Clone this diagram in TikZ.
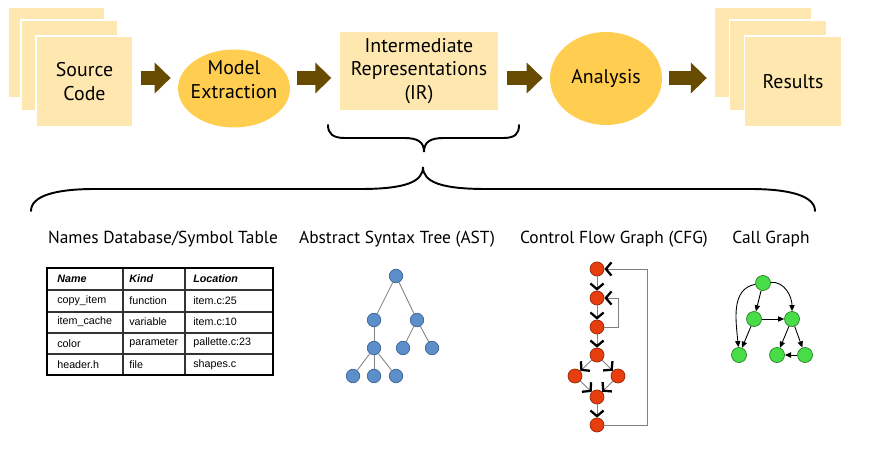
\documentclass[tikz,border=0pt]{standalone}
\usepackage{fontspec}
\setmainfont{PT Sans}
\newfontfamily\tablefont{Liberation Sans}
\usetikzlibrary{arrows.meta,shapes.geometric}
\definecolor{pagefill}{RGB}{255,232,176}
\definecolor{procfill}{RGB}{255,206,80}
\definecolor{arrowbrown}{RGB}{102,75,0}
\definecolor{astblue}{RGB}{92,142,202}
\definecolor{astline}{RGB}{60,100,150}
\definecolor{cfgred}{RGB}{232,62,14}
\definecolor{cfgline}{RGB}{150,40,10}
\definecolor{cggreen}{RGB}{72,220,72}
\definecolor{cgline}{RGB}{40,130,40}
\tikzset{
  pagebox/.style={fill=pagefill,draw=white,line width=0.8pt,minimum width=1.94cm,
    minimum height=1.82cm,inner sep=0pt,align=center,font=\fontsize{11.3}{13.5}\selectfont},
  procellipse/.style={ellipse,fill=procfill,minimum width=2.24cm,inner sep=0pt,
    align=center,font=\fontsize{11.3}{13.5}\selectfont},
  flowarrow/.style={arrowbrown,line width=0.28cm,-{Triangle[length=0.32cm,width=0.6cm]},
    shorten <=0.14cm,shorten >=0.14cm},
  brace/.style={line width=1.1pt,line cap=round},
  partlabel/.style={font=\fontsize{9.9}{12}\selectfont},
  cell/.style={anchor=west,inner sep=0pt,font=\tablefont\fontsize{6.1}{7}\selectfont},
  tabrule/.style={line width=1.2pt},
  tabline/.style={line width=0.6pt,black!80},
  astnode/.style={circle,fill=astblue,draw=astline,line width=0.4pt,minimum size=0.27cm,inner sep=0pt},
  astedge/.style={gray,line width=0.5pt},
  cfgnode/.style={circle,fill=cfgred,draw=cfgline,line width=0.4pt,minimum size=0.28cm,inner sep=0pt},
  cfgedge/.style={gray,line width=0.5pt,
    -{Straight Barb[color=black,length=3.2pt,width=7.5pt,line width=1.3pt]}},
  cgnode/.style={circle,fill=cggreen,draw=cgline,line width=0.4pt,minimum size=0.3cm,inner sep=0pt},
  cgedge/.style={black,line width=0.5pt,-{Triangle[length=3.5pt,width=3pt]}},
}

\begin{document}
\begin{tikzpicture}[x=0.02cm,y=-0.02cm]
  \useasboundingbox (0,0) rectangle (871,452);
  \coordinate (row) at (0,78);

  % pipeline
  \node[pagebox] (src2) at (56.5,52.5) {};
  \node[pagebox] (src1) at (69.5,65.5) {};
  \node[pagebox] (src)  at (84.5,81.5) {Source\\Code};
  \node[procellipse,minimum height=1.56cm,
    label={[align=center,font=\fontsize{11.3}{13.5}\selectfont,yshift=0.18cm]center:Model\\Extraction}]
    (model) at (234,88.5) {};
  \node[pagebox,minimum width=3.2cm,minimum height=1.6cm] (ir) at (419,71) {Intermediate\\Representations\\(IR)};
  \node[procellipse,minimum height=1.86cm] (analysis) at (606,78.5) {Analysis};
  \node[pagebox] (res2) at (763,52.5) {};
  \node[pagebox] (res1) at (778,65.5) {};
  \node[pagebox] (res)  at (793,81.5) {Results};

  \draw[flowarrow] (src.east |- row) -- (model.west |- row);
  \draw[flowarrow] (model.east |- row) -- (ir.west |- row);
  \draw[flowarrow] (ir.east |- row) -- (analysis.west |- row);
  \draw[flowarrow] (analysis.east |- row) -- (res2.west |- row);

  % braces
  \draw[brace] (328,125) .. controls (328,134) and (333,138) .. (345,138) -- (404,138)
    .. controls (418,138) and (424,142) .. (424,152)
    .. controls (424,142) and (430,138) .. (444,138) -- (503,138)
    .. controls (515,138) and (519,134) .. (519,125);
  \draw[brace] (31,211) .. controls (31,196) and (55,189) .. (95,189) -- (360,189)
    .. controls (405,189) and (423,182) .. (423,167)
    .. controls (423,182) and (441,189) .. (486,189) -- (750,189)
    .. controls (790,189) and (815,196) .. (815,211);

  % part labels
  \node[partlabel] (namesdb) at (163,239) {Names Database/Symbol Table};
  \node[partlabel] (asttitle) at (397,239) {Abstract Syntax Tree (AST)};
  \node[partlabel] (cfgtitle) at (614,239) {Control Flow Graph (CFG)};
  \node[partlabel] (cgtitle) at (771,239) {Call Graph};

  % symbol table
  \foreach \yy in {290,312,333,354} \draw[tabline] (47,\yy) -- (273,\yy);
  \foreach \xx in {123,185} \draw[tabline] (\xx,268) -- (\xx,375);
  \draw[tabrule] (47,268) rectangle (273,375);
  \node[cell] (head1) at (57,279) {\textbf{\textit{Name}}};
  \node[cell] (head2) at (129,279) {\textbf{\textit{Kind}}};
  \node[cell] (head3) at (193,279) {\textbf{\textit{Location}}};
  \foreach \nm/\kd/\loc [count=\r] in {copy\_item/function/item.c:25,
      item\_cache/variable/item.c:10, color/parameter/pallette.c:23, header.h/file/shapes.c}
    \path (57,{279+21.4*\r}) node[cell] (name\r) {\nm}
          (129,{279+21.4*\r}) node[cell] (kind\r) {\kd}
          (193,{279+21.4*\r}) node[cell] (loc\r) {\loc};

  % abstract syntax tree
  \node[astnode] (a0) at (396,276) {};
  \node[astnode] (a1) at (374,320) {};
  \node[astnode] (a2) at (417,320) {};
  \node[astnode] (a3) at (374,348) {};
  \node[astnode] (a4) at (403,348) {};
  \node[astnode] (a5) at (432,348) {};
  \node[astnode] (a6) at (353,376) {};
  \node[astnode] (a7) at (374,376) {};
  \node[astnode] (a8) at (396,376) {};
  \foreach \p/\c in {a0/a1,a0/a2,a1/a3,a2/a4,a2/a5,a3/a6,a3/a7,a3/a8}
    \draw[astedge] (\p) -- (\c);

  % control flow graph
  \node[cfgnode] (f1) at (597,269) {};
  \node[cfgnode] (f2) at (597,298) {};
  \node[cfgnode] (f3) at (597,327) {};
  \node[cfgnode] (f4) at (597,355) {};
  \node[cfgnode] (f5) at (575,376) {};
  \node[cfgnode] (f6) at (618,376) {};
  \node[cfgnode] (f7) at (597,397) {};
  \node[cfgnode] (f8) at (597,425) {};
  \foreach \p/\c in {f1/f2,f2/f3,f3/f4,f4/f5,f4/f6,f5/f7,f6/f7,f7/f8}
    \draw[cfgedge] (\p) -- (\c);
  \coordinate (loopa) at (647,269);
  \coordinate (loopb) at (618,298);
  \draw[cfgedge] (f8) -| (loopa) -- (f1);
  \draw[cfgedge] (f3) -| (loopb) -- (f2);

  % call graph
  \node[cgnode] (g1) at (763,283) {};
  \node[cgnode] (g2) at (754,319) {};
  \node[cgnode] (g3) at (792,319) {};
  \node[cgnode] (g4) at (739,355) {};
  \node[cgnode] (g5) at (777,355) {};
  \node[cgnode] (g6) at (805,355) {};
  \foreach \p/\c in {g1/g2,g2/g3,g2/g4,g3/g5,g3/g6,g6/g5}
    \draw[cgedge] (\p) -- (\c);
  \draw[cgedge] (g1) to[out=190,in=95] (g4);
  \draw[cgedge] (g1) to[out=5,in=90] (g3);
\end{tikzpicture}
\end{document}
